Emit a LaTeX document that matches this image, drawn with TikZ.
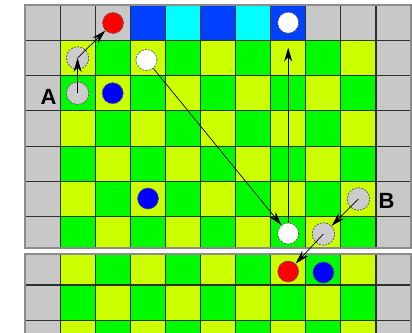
\documentclass[tikz,border=0pt]{standalone}
\usepackage{fontspec}
\setmainfont{Liberation Sans}
\usetikzlibrary{arrows.meta}
\definecolor{cell0}{RGB}{200,200,200}
\definecolor{cell1}{RGB}{204,255,0}
\definecolor{cell2}{RGB}{0,250,0}
\definecolor{cell3}{RGB}{0,64,255}
\definecolor{cell4}{RGB}{0,255,255}
\definecolor{gridline}{RGB}{45,50,45}
\definecolor{frameline}{RGB}{140,140,140}
\definecolor{discred}{RGB}{255,0,0}
\definecolor{discblue}{RGB}{0,0,255}
\definecolor{discgray}{RGB}{204,204,204}

\begin{document}
\begin{tikzpicture}[x=1pt, y=-1pt,
    square/.style={draw=gridline, line width=1.1pt},
    disc/.style={circle, inner sep=0pt, minimum size=21pt, draw=black!65,
      line width=0.7pt, dash pattern=on 2pt off 1.2pt},
    ghost/.style={disc, fill=discgray, minimum size=22.5pt},
    arrow/.style={-{Stealth[length=14pt,width=8pt]}, line width=0.7pt, black},
    letter/.style={font=\bfseries\fontsize{22}{22}\selectfont, inner sep=0pt}
  ]
    \useasboundingbox (0,0) rectangle (412,332);
    % Upper board
    \begin{scope}
      \clip (25,5) rectangle (411,248);
      \foreach \r in {0,...,6}
        \foreach \c in {0,...,10}{
          \pgfmathtruncatemacro{\kind}{ifthenelse(or(or(\c==0,\c==10),and(\r==0,or(\c<3,\c>7))),0,
            ifthenelse(\r==0,ifthenelse(mod(\c,2)==1,3,4),ifthenelse(mod(\r+\c,2)==0,1,2)))}
          \draw[square, fill=cell\kind] ({25+35.1*\c},{5+35.3*\r}) rectangle +(35.1,35.3);
        }
    \end{scope}
    \draw[frameline, line width=1.5pt] (25,5) rectangle (411,248);
    % Lower board
    \begin{scope}
      \clip (25,254) rectangle (411,340);
      \foreach \r in {7,8,9}
        \foreach \c in {0,...,10}{
          \pgfmathtruncatemacro{\kind}{ifthenelse(or(\c==0,\c==10),0,ifthenelse(mod(\r+\c,2)==0,1,2))}
          \draw[square, fill=cell\kind] ({25+35.1*\c},{2.6+35.3*\r}) rectangle +(35.1,35.3);
        }
    \end{scope}
    \draw[frameline, line width=1.5pt] (25,340) -- (25,254) -- (411,254) -- (411,340);

    % Path A
    \node[ghost] (pa1) at (77.6,93.2) {};
    \node[ghost] (pa2) at (77.6,58) {};
    \node[disc, fill=discred] (ra) at (113,23) {};
    \node[disc, fill=discblue] (ba) at (112.7,93.2) {};
    % White discs
    \node[disc, fill=white] (w1) at (146.5,60) {};
    \node[disc, fill=white] (w2) at (288.2,233.5) {};
    \node[disc, fill=white] (w3) at (288.2,22.7) {};
    \node[disc, fill=discblue] (bm) at (148,198.5) {};
    % Path B
    \node[ghost] (pb1) at (358.4,199) {};
    \node[ghost] (pb2) at (323.4,234) {};
    \node[disc, fill=discred] (rb) at (288.2,271.5) {};
    \node[disc, fill=discblue] (bb) at (323.4,272.5) {};
    % Labels
    \node[letter] (la) at (48.5,96.5) {A};
    \node[letter] (lb) at (386.5,201) {B};

    % Moves
    \draw[arrow] (pa1.center) -- (pa2.center);
    \draw[arrow] (pa2.center) -- (ra);
    \draw[arrow] (w1) -- (w2);
    \draw[arrow, shorten >=14pt] (w2) -- (w3);
    \draw[arrow] (pb1.center) -- (pb2);
    \draw[arrow] (pb2.center) -- (rb);
  \end{tikzpicture}
\end{document}
